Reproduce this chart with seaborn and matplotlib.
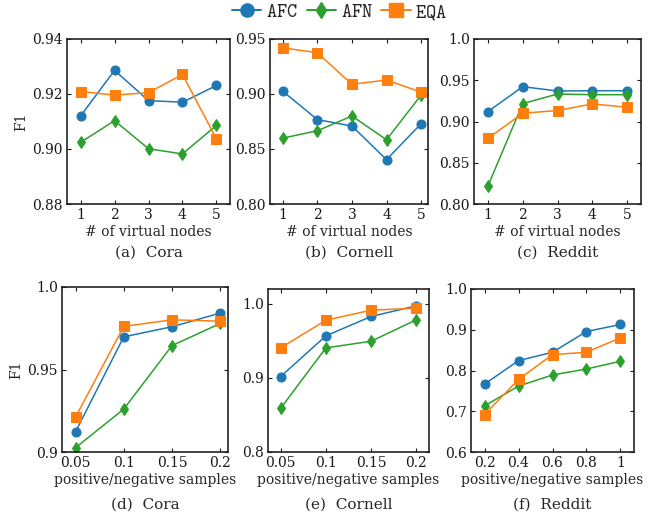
import numpy as np
import pandas as pd
import matplotlib
matplotlib.use("Agg")
import matplotlib.pyplot as plt
import seaborn as sns

methods = ["AFC", "AFN", "EQA"]

# top row: number of virtual nodes
vn_x = [1, 2, 3, 4, 5]
cora_vn = {
    "AFC": [0.912, 0.9286, 0.9176, 0.917, 0.9231],
    "AFN": [0.9024, 0.9103, 0.9001, 0.8982, 0.9086],
    "EQA": [0.9209, 0.9196, 0.9205, 0.9271, 0.9037],
}
cornell_vn = {
    "AFC": [0.9025, 0.8767, 0.8709, 0.8403, 0.873],
    "AFN": [0.8599, 0.8666, 0.880, 0.8584, 0.899],
    "EQA": [0.942, 0.9375, 0.9088, 0.9127, 0.9017],
}
reddit_vn = {
    "AFC": [0.912, 0.9422, 0.937, 0.9373, 0.9373],
    "AFN": [0.8217, 0.9217, 0.9333, 0.9325, 0.9325],
    "EQA": [0.8795, 0.910, 0.9133, 0.9213, 0.9173],
}

# bottom row: positive/negative samples
pn_x_small = [0.05, 0.1, 0.15, 0.2]
pn_x_reddit = [0.2, 0.4, 0.6, 0.8, 1.0]
cora_pn = {
    "AFC": [0.9122, 0.9698, 0.9759, 0.9842],
    "AFN": [0.9026, 0.926, 0.9645, 0.9779],
    "EQA": [0.9211, 0.9761, 0.9801, 0.9793],
}
cornell_pn = {
    "AFC": [0.9018, 0.9568, 0.9829, 0.9973],
    "AFN": [0.859, 0.9405, 0.9495, 0.9784],
    "EQA": [0.9405, 0.9779, 0.9914, 0.9941],
}
reddit_pn = {
    "AFC": [0.7667, 0.8242, 0.8448, 0.8957, 0.9129],
    "AFN": [0.7133, 0.7618, 0.789, 0.8037, 0.8226],
    "EQA": [0.692, 0.7782, 0.839, 0.8448, 0.8801],
}

sns.set_style("ticks")
plt.rcParams["font.family"] = ["DejaVu Serif"]

palette = {"AFC": "#1f77b4", "AFN": "#2ca02c", "EQA": "#ff7f0e"}
marker_map = {"AFC": "o", "AFN": "d", "EQA": "s"}
msize = {"AFC": 6.5, "AFN": 6, "EQA": 6.5}


def to_long(xs, series):
    rows = []
    for m in methods:
        for x, v in zip(xs, series[m]):
            rows.append({"x": x, "F1": v, "method": m})
    return pd.DataFrame(rows)


W, H = 661, 519
fig = plt.figure(figsize=(W / 100, H / 100), dpi=100)


def add_ax(x0, y0, x1, y1):
    return fig.add_axes([x0 / W, 1 - y1 / H, (x1 - x0) / W, (y1 - y0) / H])


panels = [
    # rect, xs, data, xlim, ylim, yticks, yticklabels, xticklabels, xlabel, caption
    ((67, 39, 230, 204), vn_x, cora_vn, (0.6, 5.4), (0.88, 0.94),
     [0.88, 0.90, 0.92, 0.94], ["0.88", "0.90", "0.92", "0.94"],
     ["1", "2", "3", "4", "5"], "# of virtual nodes", "(a)  Cora"),
    ((270, 39, 428, 204), vn_x, cornell_vn, (0.63, 5.2), (0.80, 0.95),
     [0.80, 0.85, 0.90, 0.95], ["0.80", "0.85", "0.90", "0.95"],
     ["1", "2", "3", "4", "5"], "# of virtual nodes", "(b)  Cornell"),
    ((474, 39, 641, 204), vn_x, reddit_vn, (0.6, 5.4), (0.80, 1.0),
     [0.80, 0.85, 0.90, 0.95, 1.0], ["0.80", "0.85", "0.90", "0.95", "1.0"],
     ["1", "2", "3", "4", "5"], "# of virtual nodes", "(c)  Reddit"),
    ((62, 287, 228, 452), pn_x_small, cora_pn, (0.036, 0.208), (0.9, 1.0),
     [0.9, 0.95, 1.0], ["0.9", "0.95", "1.0"],
     ["0.05", "0.1", "0.15", "0.2"], "positive/negative samples", "(d)  Cora"),
    ((268, 289, 429, 452), pn_x_small, cornell_pn, (0.036, 0.214), (0.8, 1.02),
     [0.8, 0.9, 1.0], ["0.8", "0.9", "1.0"],
     ["0.05", "0.1", "0.15", "0.2"], "positive/negative samples", "(e)  Cornell"),
    ((471, 289, 634, 452), pn_x_reddit, reddit_pn, (0.12, 1.08), (0.6, 1.0),
     [0.6, 0.7, 0.8, 0.9, 1.0], ["0.6", "0.7", "0.8", "0.9", "1.0"],
     ["0.2", "0.4", "0.6", "0.8", "1"], "positive/negative samples", "(f)  Reddit"),
]

for i, (rect, xs, data, xlim, ylim, yt, ytl, xtl, xlabel, caption) in enumerate(panels):
    ax = add_ax(*rect)
    df = to_long(xs, data)
    for m in methods:
        sub = df[df["method"] == m]
        sns.lineplot(data=sub, x="x", y="F1", ax=ax, color=palette[m],
                     marker=marker_map[m], markersize=msize[m],
                     markeredgecolor=palette[m], linewidth=1.1, label=m,
                     legend=False)
    ax.set_xlim(*xlim)
    ax.set_ylim(*ylim)
    ax.set_xticks(xs)
    ax.set_xticklabels(xtl)
    ax.set_yticks(yt)
    ax.set_yticklabels(ytl)
    ax.tick_params(direction="in", length=3, width=0.8, top=True, right=True,
                   labelsize=10, colors="#1a1a1a", pad=3)
    for s in ax.spines.values():
        s.set_color("#222222")
        s.set_linewidth(1.2)
    ax.set_xlabel(xlabel, fontsize=10, labelpad=2)
    ax.set_ylabel("F1" if i in (0, 3) else "", fontsize=10, labelpad=3)
    top_row = i < 3
    cap_y = rect[3] + (49 if top_row else 53)
    fig.text((rect[0] + rect[2]) / 2 / W, 1 - cap_y / H, caption,
             ha="center", va="center", fontsize=11)

handles = [
    plt.Line2D([], [], color=palette[m], marker=marker_map[m],
               markersize=9.5 if m != "AFN" else 8.5, linewidth=1.4)
    for m in methods
]
labels = [r"$\mathtt{" + m + "}$" for m in methods]
leg = fig.legend(handles, labels, loc="center", bbox_to_anchor=(0.514, 1 - 12 / H),
                 ncol=3, frameon=False, handlelength=1.5, handletextpad=0.25,
                 columnspacing=0.45, fontsize=14, borderpad=0.2)
for t in leg.get_texts():
    t.set_math_fontfamily("cm")

fig.savefig("out.png", dpi=100)
